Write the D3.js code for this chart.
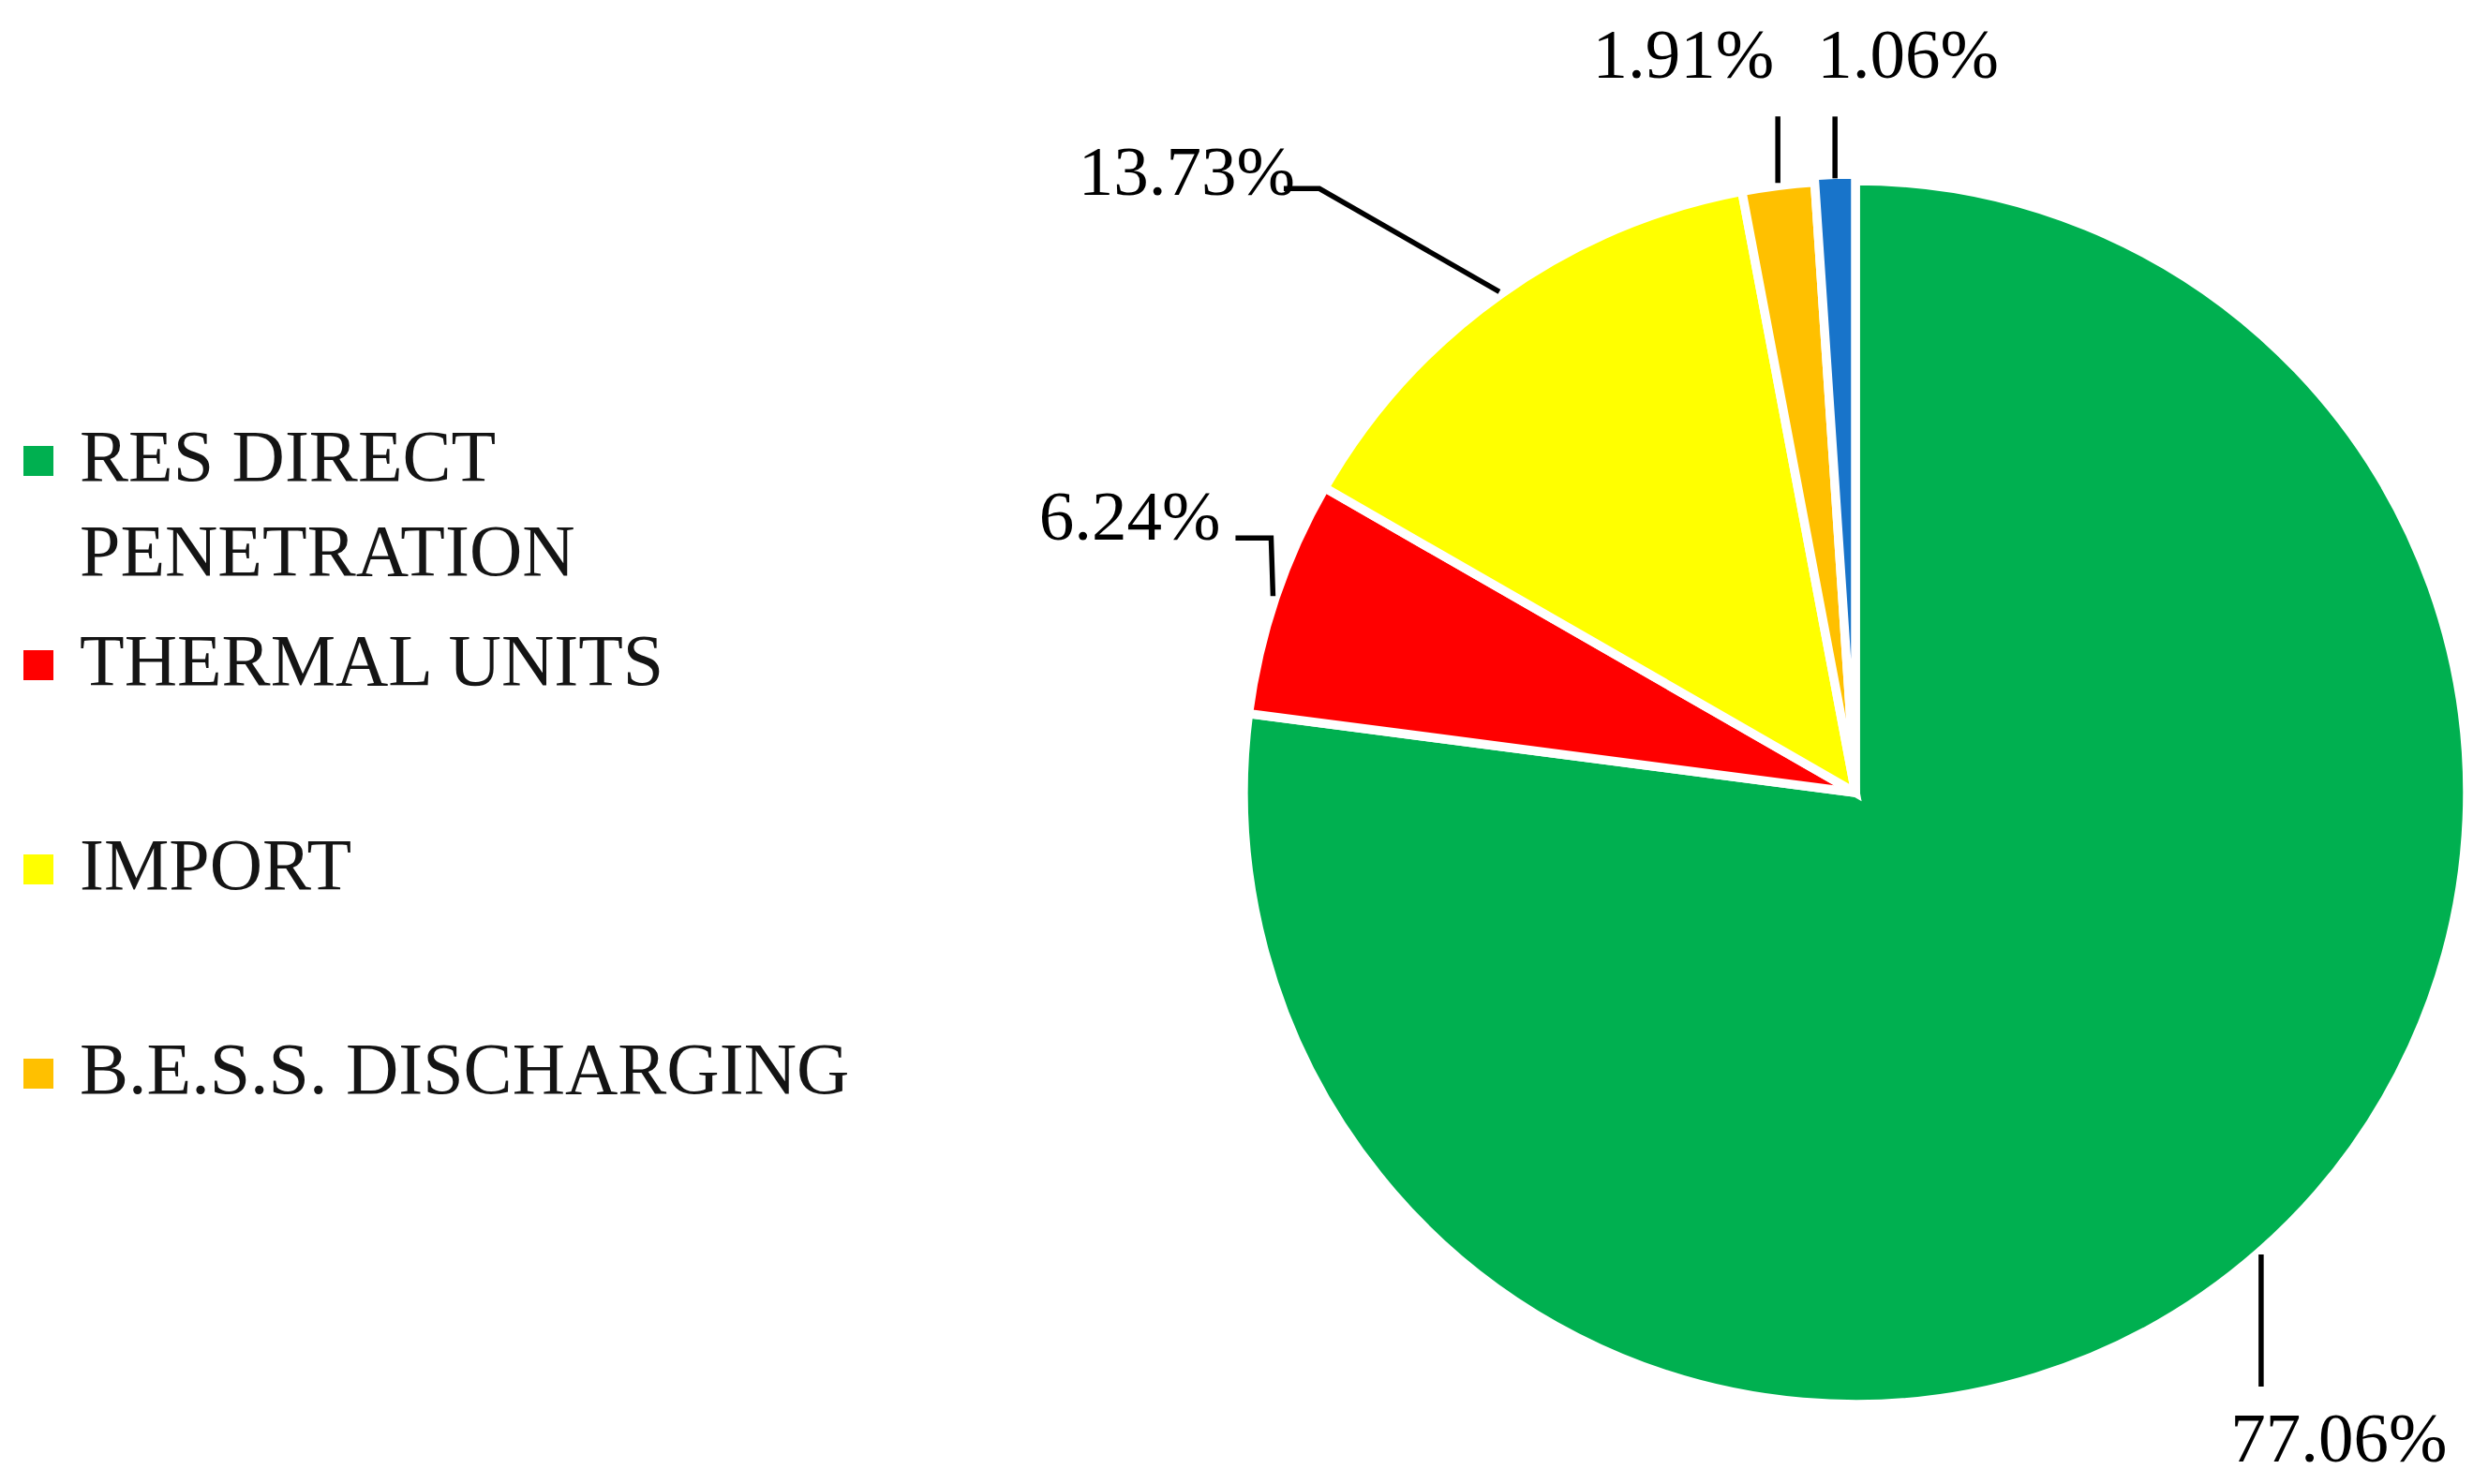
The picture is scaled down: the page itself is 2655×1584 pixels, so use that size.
<!DOCTYPE html>
<html>
<head>
<meta charset="utf-8">
<script src="https://cdn.jsdelivr.net/npm/d3@7"></script>
<style>
  body { margin: 0; background: #fff; }
  text { font-family: "Liberation Serif", "Times New Roman", serif; }
</style>
</head>
<body>
<svg width="2655" height="1584"></svg>
<script>
// data ------------------------------------------------------------------
var categories = ['RES DIRECT PENETRATION', 'THERMAL UNITS', 'IMPORT', 'B.E.S.S. DISCHARGING', 'OTHER'];
var shares = [77.06, 6.24, 13.73, 1.91, 1.06]; // percent
var colors = ['#00b050', '#ff0000', '#ffff00', '#ffc000', '#1874ca'];
var legendLines = [['RES DIRECT', 'PENETRATION'], ['THERMAL UNITS'], ['IMPORT'], ['B.E.S.S. DISCHARGING']];

var width = 2655;
var height = 1584;
var cx = 1980, cy = 846;
var radius = 653;
var fontSize = 75;
var legendFontSize = 78;

// leader line bend (relative to the slice edge) and label offset (relative to the bend)
var leaderLayout = [
  { bend: [0, 141], tail: 0, label: [83, 80], anchor: 'middle' },
  { bend: [-2, -62], tail: -38, label: [-54, 2], anchor: 'end' },
  { bend: [-192, -110], tail: -38, label: [-26, 7], anchor: 'end' },
  { bend: [0, -71], tail: 0, label: [-4, -41], anchor: 'end' },
  { bend: [0, -66], tail: 0, label: [-19, -41], anchor: 'start' }
];

var svg = d3.select('svg');

// Pie -------------------------------------------------------------------
var pie = d3.pie().sort(null).value(d => d);
var arcs = pie(shares);

var arc = d3.arc().innerRadius(0).outerRadius((d, i) => i === 4 ? radius + 7 : radius);

var g = svg.append('g').attr('transform', 'translate(' + [cx, cy] + ')');

g.selectAll('path.slice').data(arcs).enter().append('path')
  .attr('class', 'slice')
  .attr('d', (d, i) => arc(d, i))
  .attr('fill', (d, i) => colors[i])
  .attr('stroke', 'white')
  .attr('stroke-width', 9.5)
  .attr('stroke-linejoin', 'miter');

// Leader lines + labels -------------------------------------------------
var fmt = d3.format('.2f');

arcs.forEach((d, i) => {
  var a = (d.startAngle + d.endAngle) / 2;
  var r = radius + 3;
  var p0 = [Math.sin(a) * r, -Math.cos(a) * r];
  var L = leaderLayout[i];
  var p1 = [p0[0] + L.bend[0], p0[1] + L.bend[1]];
  var pts = [p0, p1];
  if (L.tail) pts.push([p1[0] + L.tail, p1[1]]);

  g.append('path')
    .attr('d', d3.line()(pts))
    .attr('fill', 'none')
    .attr('stroke', '#000')
    .attr('stroke-width', 5.5);

  g.append('text')
    .attr('x', p1[0] + L.label[0])
    .attr('y', p1[1] + L.label[1])
    .attr('text-anchor', L.anchor)
    .attr('font-size', fontSize)
    .attr('fill', '#000')
    .text(fmt(d.data) + '%');
});

// Legend (only the first four entries are visible) ----------------------
var legendY = d3.scaleLinear().domain([0, 3]).range([513, 1167]);

var legend = svg.append('g');
legendLines.forEach((lines, i) => {
  var y = legendY(i);
  legend.append('rect')
    .attr('x', 25).attr('y', y - 37)
    .attr('width', 32).attr('height', 32)
    .attr('fill', colors[i]);
  var t = legend.append('text')
    .attr('x', 85).attr('y', y)
    .attr('font-size', legendFontSize)
    .attr('fill', '#141414');
  lines.forEach((s, j) => {
    t.append('tspan').attr('x', 85).attr('dy', j === 0 ? 0 : 101).text(s);
  });
});
</script>
</body>
</html>
